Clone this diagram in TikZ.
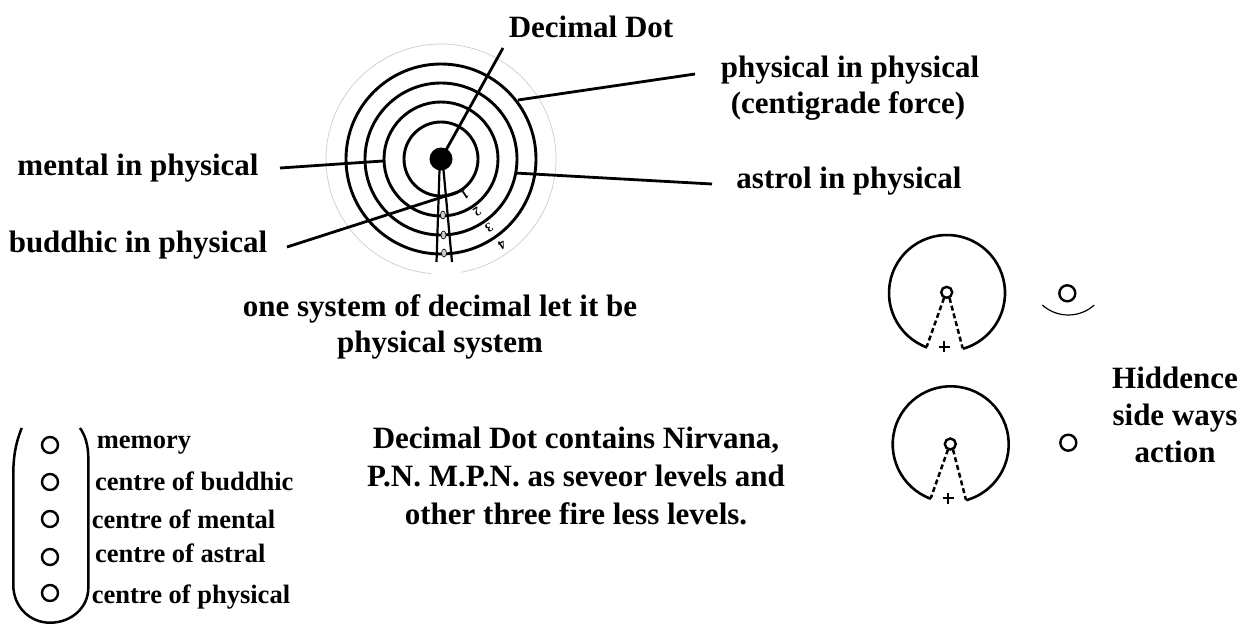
\documentclass[tikz,border=0pt]{standalone}
\usepackage{fontspec}
\setmainfont{Liberation Serif}
\begin{document}
\begin{tikzpicture}[x=1pt,y=-1pt,
  lbl/.style={font=\fontsize{31}{37}\selectfont\bfseries, inner sep=0pt, anchor=base},
  small/.style={font=\fontsize{26.5}{30}\selectfont\bfseries, inner sep=0pt, anchor=base west},
  digit/.style={font=\fontsize{13}{13}\selectfont\bfseries, inner sep=0pt, rotate=-146},
  ring/.style={line width=2.9pt},
  conn/.style={line width=2.8pt},
  thinc/.style={line width=2.4pt},
  dsh/.style={line width=2.5pt, dash pattern=on 5pt off 3pt},
  faint/.style={line width=0.7pt, gray!40},
  wmark/.style={line width=0.6pt, fill=gray!40},
]
\useasboundingbox (0,0) rectangle (1247,629);

% concentric system
\coordinate (C) at (441,159);
\draw[faint] (C) ++(95:115) arc[start angle=95, end angle=440, radius=115];
\foreach \r in {37,57,76,95} \draw[ring] (C) circle[radius=\r];
\fill (C) circle[radius=11.5];
\coordinate (w1) at (439.5,170); \coordinate (w2) at (436.5,262);
\coordinate (w3) at (443.5,170); \coordinate (w4) at (452,262);
\draw[line width=2.2pt] (w1) -- (w2);
\draw[line width=2.2pt] (w3) -- (w4);
\foreach \yy/\xx in {215/442.9,235/443.5,253/444}{
  \draw[wmark] (\xx,\yy) ellipse[x radius=2.5, y radius=4];
}
\node[digit] (d1) at (465,195) {1};
\node[digit] (d2) at (477,212) {2};
\node[digit] (d3) at (489,228) {3};
\node[digit] (d4) at (502,245) {4};

% labels
\node[lbl] (ldd) at (591,37) {Decimal Dot};
\node[lbl] (lpp1) at (850,77) {physical in physical};
\node[lbl] (lpp2) at (848,113) {(centigrade force)};
\node[lbl] (lap) at (849,188) {astrol in physical};
\node[lbl] (lmp) at (138,175) {mental in physical};
\node[lbl] (lbp) at (138,252) {buddhic in physical};
\node[lbl] (los1) at (440,316) {one system of decimal let it be};
\node[lbl] (los2) at (440,352) {physical system};
\node[lbl] (ldc1) at (576,448) {Decimal Dot contains Nirvana,};
\node[lbl] (ldc2) at (576,486) {P.N. M.P.N. as seveor levels and};
\node[lbl] (ldc3) at (576,524) {other three fire less levels.};
\node[lbl] (lh1) at (1175,388) {Hiddence};
\node[lbl] (lh2) at (1175,425) {side ways};
\node[lbl] (lh3) at (1175,462) {action};

% connectors
\coordinate (edd) at (503,48);
\coordinate (rpp) at (518,100); \coordinate (epp) at (695,74);
\coordinate (rap) at (515,173); \coordinate (eap) at (712,184);
\coordinate (rmp) at (383,161); \coordinate (emp) at (280,168);
\coordinate (rbp) at (458,192); \coordinate (ebp) at (287,247);
\draw[conn] (C) -- (edd);
\draw[conn] (rpp) -- (epp);
\draw[conn] (rap) -- (eap);
\draw[conn] (rmp) -- (emp);
\draw[conn] (rbp) -- (ebp);

% right side, top
\coordinate (c1) at (947,293);
\draw[line width=2.6pt] (c1) ++(110:58) arc[start angle=110, end angle=434, radius=58];
\draw[thinc] (946.7,292.3) circle[radius=5.5];
\draw[dsh] (944,298) -- (926.7,346.7);
\draw[dsh] (949.5,298) -- (962.7,348.3);
\draw[line width=1.7pt] (938.8,346.7) -- (949.8,346.7) (944.3,341.2) -- (944.3,352.2);
\draw[thinc] (1067.3,293.3) circle[radius=8];
\draw[line width=1.2pt] (1068.3,276.2) ++(48:38.8) arc[start angle=48, end angle=132, radius=38.8];

% right side, bottom
\coordinate (c2) at (950.7,444.3);
\draw[line width=2.6pt] (c2) ++(110:58) arc[start angle=110, end angle=434.6, radius=58];
\draw[thinc] (950.3,444) circle[radius=5.5];
\draw[dsh] (948,449.5) -- (930.7,498.3);
\draw[dsh] (953,449.5) -- (966,500);
\draw[line width=1.7pt] (942.8,498.3) -- (953.8,498.3) (948.3,492.8) -- (948.3,503.8);
\draw[thinc] (1068.3,442.7) circle[radius=8];

% bottom-left list
\draw[line width=2.5pt] (21.7,428) .. controls (15,445) and (13.3,458) .. (13.3,475)
  -- (13.3,585) .. controls (13.3,607) and (30,622.7) .. (50,622.7)
  .. controls (72,622.7) and (88.3,607) .. (88.3,588)
  -- (88.3,458) .. controls (88.3,445) and (85,435) .. (80,428);
\foreach \yy in {445,482,519,557,593} \draw[thinc] (50,\yy) circle[radius=8];
\node[small] (m1) at (96.7,448) {memory};
\node[small] (m2) at (95,490) {centre of buddhic};
\node[small] (m3) at (91.7,528) {centre of mental};
\node[small] (m4) at (95,562) {centre of astral};
\node[small] (m5) at (91.7,603) {centre of physical};
\end{tikzpicture}
\end{document}
